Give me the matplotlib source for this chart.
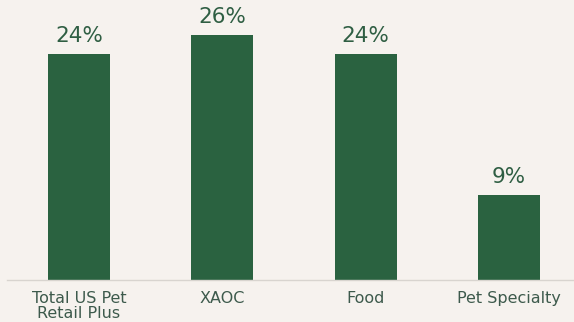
import matplotlib.pyplot as plt

# Share of growth by channel
channels = ["Total US Pet\nRetail Plus", "XAOC", "Food", "Pet Specialty"]
shares = [24, 26, 24, 9]

bg = "#f6f2ee"
bar_color = "#2a6240"
value_color = "#2f5e43"
label_color = "#3d5a4c"

plt.rcParams["font.family"] = ["DejaVu Sans"]

fig = plt.figure(figsize=(5.74, 3.22), dpi=100, facecolor=bg)
ax = fig.add_axes([7 / 574, 42 / 322, 567 / 574, 280 / 322])
ax.set_facecolor(bg)

x = range(len(channels))
bars = ax.bar(x, shares, width=0.433, color=bar_color)
ax.bar_label(bars, labels=[f"{v}%" for v in shares], padding=6,
             fontsize=15.5, color=value_color)

ax.set_xlim(-0.502, 3.453)
ax.set_ylim(0, 29.77)
ax.set_xticks(list(x))
ax.set_xticklabels(channels, fontsize=11.5, color=label_color, linespacing=1.0)
ax.tick_params(axis="x", length=0, pad=8)
ax.set_yticks([])
for side in ["top", "right", "left"]:
    ax.spines[side].set_visible(False)
ax.spines["bottom"].set_color("#d8d4cf")
ax.spines["bottom"].set_linewidth(1)

fig.savefig("out.png", dpi=100, facecolor=bg)
